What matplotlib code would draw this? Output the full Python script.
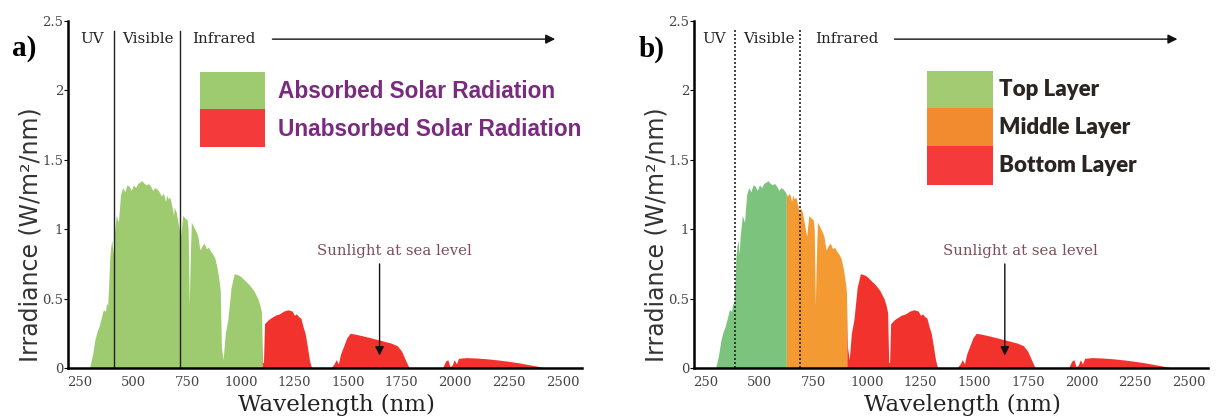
import numpy as np
import matplotlib.pyplot as plt
from matplotlib.patches import Rectangle

# solar spectrum at sea level (nm, W/m2/nm)
wavelength = [
    295, 300, 310, 320, 330, 340, 350, 360, 370, 375, 380, 385, 390, 395, 400,
    405, 410, 420, 430, 440, 450, 460, 470, 480, 490, 500, 510, 520, 530, 540,
    550, 560, 570, 580, 590, 600, 610, 620, 630, 640, 650, 655, 660, 670, 680,
    687, 690, 700, 710, 720, 730, 740, 750, 755, 760, 765, 770, 780, 790, 800,
    810, 820, 830, 840, 850, 860, 870, 880, 890, 900, 905, 910, 918, 928, 940,
    955, 970, 990, 1000, 1020, 1040, 1060, 1080, 1090, 1097, 1102, 1106, 1111,
    1130, 1140, 1160, 1180, 1200, 1220, 1240, 1250, 1260, 1270, 1280, 1290,
    1300, 1310, 1320, 1330, 1420, 1435, 1445, 1455, 1465, 1480, 1495, 1510,
    1530, 1560, 1600, 1650, 1700, 1730, 1750, 1770, 1785, 1940, 1955, 1965,
    1975, 1985, 1995, 2005, 2015, 2050, 2100, 2150, 2200, 2250, 2300, 2350,
    2400, 2420,
]
irradiance = [
    0.0, 0.03, 0.1, 0.2, 0.26, 0.3, 0.36, 0.42, 0.41, 0.47, 0.45, 0.6, 0.8, 0.88, 0.92,
    0.82, 0.95, 1.1, 1.05, 1.25, 1.3, 1.27, 1.32, 1.31, 1.28, 1.32, 1.3, 1.33, 1.34, 1.35,
    1.33, 1.32, 1.33, 1.31, 1.28, 1.3, 1.29, 1.27, 1.24, 1.26, 1.2, 1.25, 1.22, 1.23, 1.16,
    1.1, 1.16, 1.12, 1.03, 0.95, 1.1, 1.08, 1.07, 1.0, 0.45, 0.8, 1.05, 1.02, 0.99, 0.95,
    0.85, 0.88, 0.9, 0.86, 0.87, 0.84, 0.82, 0.79, 0.72, 0.62, 0.55, 0.15, 0.06, 0.25, 0.35,
    0.58, 0.68, 0.67, 0.66, 0.63, 0.6, 0.56, 0.5, 0.45, 0.4, 0.04, 0.04, 0.32,
    0.35, 0.36, 0.38, 0.39, 0.41, 0.42, 0.41, 0.38, 0.39, 0.37, 0.36, 0.3,
    0.25, 0.16, 0.06, 0.0, 0.0, 0.03, 0.06, 0.03, 0.1, 0.16, 0.22, 0.25,
    0.245, 0.235, 0.22, 0.2, 0.18, 0.16, 0.12, 0.05, 0.0, 0.0, 0.05, 0.06,
    0.01, 0.02, 0.06, 0.03, 0.07, 0.075, 0.072, 0.066, 0.058, 0.048, 0.036, 0.022,
    0.008, 0.0,
]

x_ticks = [250, 500, 750, 1000, 1250, 1500, 1750, 2000, 2250, 2500]
y_ticks = [0, 0.5, 1, 1.5, 2, 2.5]
y_tick_labels = ["0", "0.5", "1", "1.5", "2", "2.5"]

# band edges (nm)
bands_a = [("Absorbed Solar Radiation", 295, 1100, "#9fcb70")]
bands_a.append(("Unabsorbed Solar Radiation", 1100, 2420, "#f2322d"))
bands_b = [
    ("Top Layer", 295, 625, "#7cc47e"),
    ("Middle Layer", 625, 907, "#f39a32"),
    ("Bottom Layer", 907, 2420, "#f2322d"),
]
legend_b_colors = ["#a3cc72", "#f28a30", "#f43a3a"]
region_lines_a = [410, 716]
region_lines_b = [386, 689]

wl = np.array(wavelength, dtype=float)
irr = np.array(irradiance, dtype=float)


def segment(lo, hi):
    inside = (wl > lo) & (wl < hi)
    xs = np.concatenate(([lo], wl[inside], [hi]))
    ys = np.concatenate(([np.interp(lo, wl, irr)], irr[inside], [np.interp(hi, wl, irr)]))
    return xs, ys


def base_axes(ax, letter):
    ax.set_xlim(195, 2590)
    ax.set_ylim(0, 2.5)
    for s in ["top", "right"]:
        ax.spines[s].set_visible(False)
    for s in ["left", "bottom"]:
        ax.spines[s].set_linewidth(1.8)
        ax.spines[s].set_zorder(5)
    ax.set_xticks(x_ticks)
    ax.set_yticks(y_ticks)
    ax.set_yticklabels(y_tick_labels)
    ax.tick_params(axis="x", length=0, pad=6, labelsize=9.5, labelcolor="#444444")
    ax.tick_params(axis="y", length=3, width=0.8, pad=0.5, labelsize=9.5, labelcolor="#444444")
    for lab in ax.get_xticklabels() + ax.get_yticklabels():
        lab.set_family("DejaVu Serif")
    ax.set_xlabel("Wavelength (nm)", family="DejaVu Serif", fontsize=16.5, color="#222222")
    ax.xaxis.set_label_coords(0.523, -0.074)
    ax.set_ylabel("Irradiance (W/m²/nm)", family="DejaVu Sans", fontsize=17, color="#333333")
    ax.yaxis.set_label_coords(-0.05, 0.385)
    ax.text(-0.108, 0.92, letter, transform=ax.transAxes, family="Liberation Serif",
            fontweight="bold", fontsize=21, ha="left", va="center")


fig = plt.figure(figsize=(12.2, 4.2), dpi=100)
ax_a = fig.add_axes([0.0557, 0.1238, 0.4213, 0.826])
ax_b = fig.add_axes([0.5689, 0.1238, 0.4213, 0.826])

# ---- panel a
base_axes(ax_a, "a)")
for name, lo, hi, col in bands_a:
    xs, ys = segment(lo, hi)
    ax_a.fill_between(xs, 0, ys, color=col, lw=0)
for xv in region_lines_a:
    ax_a.plot([xv, xv], [0, 2.43], color="#222222", lw=1.0)
ax_a.text(252, 2.37, "UV", family="DejaVu Serif", fontsize=10.8, color="#222222", va="center")
ax_a.text(446, 2.37, "Visible", family="DejaVu Serif", fontsize=10.8, color="#222222", va="center")
ax_a.text(772, 2.37, "Infrared", family="DejaVu Serif", fontsize=10.8, color="#222222", va="center")
ax_a.annotate("", xy=(2478, 2.37), xytext=(1135, 2.37),
              arrowprops=dict(arrowstyle="-|>", color="#111111", lw=1.0, mutation_scale=14))
ax_a.add_patch(Rectangle((809, 1.864), 303, 0.266, color=bands_a[0][3], lw=0))
ax_a.add_patch(Rectangle((809, 1.59), 303, 0.274, color="#f43a3a", lw=0))
ax_a.text(1172, 1.994, bands_a[0][0], family="Liberation Sans", fontweight="bold",
          fontsize=16.3, color="#7a2b7f", va="center")
ax_a.text(1172, 1.72, bands_a[1][0], family="Liberation Sans", fontweight="bold",
          fontsize=16.3, color="#7a2b7f", va="center")
ax_a.text(1717, 0.84, "Sunlight at sea level", family="DejaVu Serif", fontsize=10.7,
          color="#7d4f5a", ha="center", va="center")
ax_a.annotate("", xy=(1647, 0.07), xytext=(1647, 0.77),
              arrowprops=dict(arrowstyle="-|>", color="#111111", lw=1.0, mutation_scale=13))

# ---- panel b
base_axes(ax_b, "b)")
for name, lo, hi, col in bands_b:
    xs, ys = segment(lo, hi)
    ax_b.fill_between(xs, 0, ys, color=col, lw=0)
for xv in region_lines_b:
    ax_b.plot([xv, xv], [0, 2.44], color="#222222", lw=1.2, ls=(0, (1.2, 1.2)))
ax_b.text(232, 2.37, "UV", family="DejaVu Serif", fontsize=10.8, color="#222222", va="center")
ax_b.text(422, 2.37, "Visible", family="DejaVu Serif", fontsize=10.8, color="#222222", va="center")
ax_b.text(758, 2.37, "Infrared", family="DejaVu Serif", fontsize=10.8, color="#222222", va="center")
ax_b.annotate("", xy=(2460, 2.37), xytext=(1116, 2.37),
              arrowprops=dict(arrowstyle="-|>", color="#111111", lw=1.0, mutation_scale=14))
box_tops = [2.139, 1.871, 1.597]
box_bottoms = [1.871, 1.597, 1.322]
for (name, lo, hi, col), lc, top, bot in zip(bands_b, legend_b_colors, box_tops, box_bottoms):
    ax_b.add_patch(Rectangle((1279, bot), 307, top - bot, color=lc, lw=0))
    ax_b.text(1615, (top + bot) / 2, name, family="Lato", fontweight="heavy",
              fontsize=16, color="#2b2522", va="center")
ax_b.text(1717, 0.84, "Sunlight at sea level", family="DejaVu Serif", fontsize=10.7,
          color="#7d4f5a", ha="center", va="center")
ax_b.annotate("", xy=(1643, 0.07), xytext=(1643, 0.77),
              arrowprops=dict(arrowstyle="-|>", color="#111111", lw=1.0, mutation_scale=13))

fig.savefig("out.png", dpi=100)
